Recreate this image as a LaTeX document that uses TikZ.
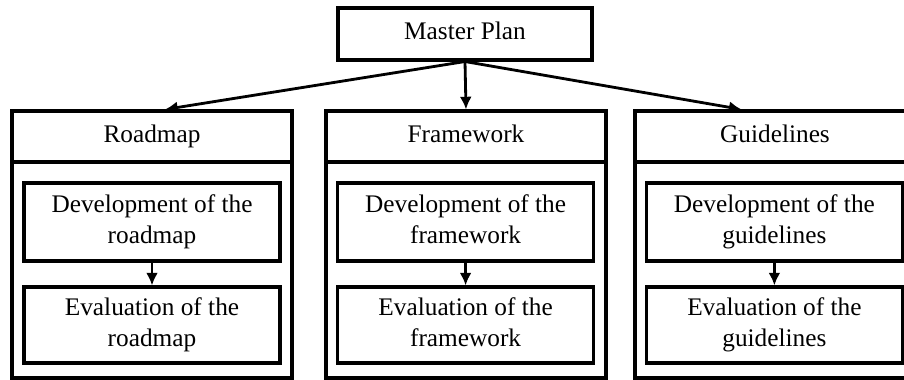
\documentclass[tikz,border=0pt]{standalone}
\usepackage{fontspec}
\setmainfont{Liberation Serif}
\usetikzlibrary{calc,arrows.meta}
\begin{document}
\begin{tikzpicture}[
  box/.style={draw, line width=2.2pt, align=center, inner sep=0pt,
    font=\fontsize{18pt}{21.5pt}\selectfont},
  outerbox/.style={box, minimum width=7cm, minimum height=6.675cm},
  headbox/.style={box, minimum width=7cm, minimum height=1.275cm,
    text height=12.5pt, text depth=4pt},
  stepbox/.style={box, minimum width=6.4cm, minimum height=1.95cm,
    text depth=4pt},
  link/.style={line width=2pt, -{Latex[length=9pt,width=8.5pt]}}
]
\useasboundingbox (0, 0) rectangle (22.6, 9.5);
\clip (0, 0) rectangle (22.6, 9.5);

\node (master) at (11.625, 8.65) [box, minimum width=6.35cm, minimum height=1.3cm, text height=12.5pt, text depth=4pt] {Master Plan};

\node (road) at (3.8, 3.3875) [outerbox] {};
\node (roadhead) at (3.8, 6.0875) [headbox] {Roadmap};
\node (roaddev) at (3.8, 3.95) [stepbox] {Development of the\\roadmap};
\node (roadeval) at (3.8, 1.375) [stepbox, minimum height=1.9cm] {Evaluation of the\\roadmap};

\node (frame) at (11.65, 3.3875) [outerbox] {};
\node (framehead) at (11.65, 6.0875) [headbox] {Framework};
\node (framedev) at (11.64, 3.95) [stepbox] {Development of the\\framework};
\node (frameeval) at (11.64, 1.375) [stepbox, minimum height=1.9cm] {Evaluation of the\\framework};

\node (guide) at (19.375, 3.3875) [outerbox] {};
\node (guidehead) at (19.375, 6.0875) [headbox] {Guidelines};
\node (guidedev) at (19.36, 3.95) [stepbox] {Development of the\\guidelines};
\node (guideeval) at (19.36, 1.375) [stepbox, minimum height=1.9cm] {Evaluation of the\\guidelines};

\draw [link] (master.south) -- ($(road.north west)!0.546!(road.north east)$);
\draw [link] (master.south) -- (frame.north);
\draw [link] (master.south) -- ($(guide.north west)!0.382!(guide.north east)$);

\draw [link] (roaddev) -- (roadeval);
\draw [link] (framedev) -- (frameeval);
\draw [link] (guidedev) -- (guideeval);
\end{tikzpicture}
\end{document}
